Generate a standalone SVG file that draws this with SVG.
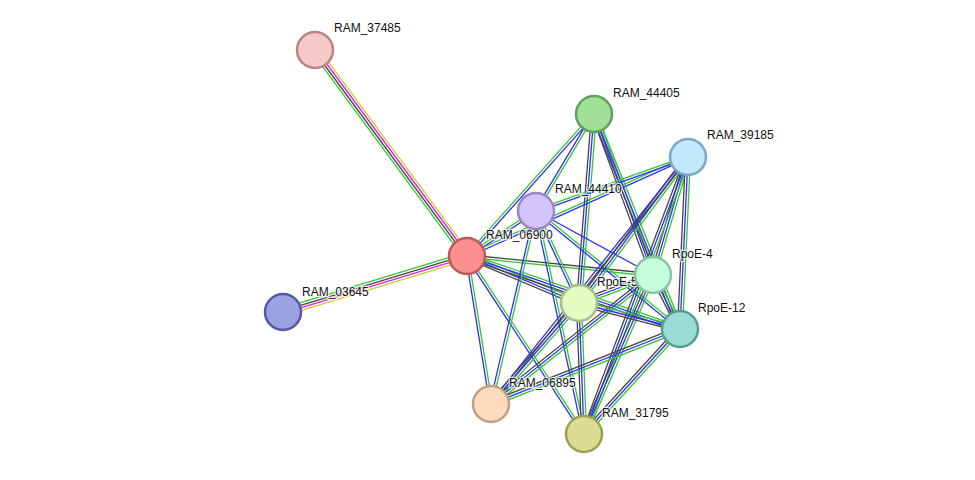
<svg xmlns="http://www.w3.org/2000/svg" xmlns:xlink="http://www.w3.org/1999/xlink" width="975" height="480" viewBox="0 0 975 480">
<style>
.g{stroke:#33c633;stroke-width:1.3;fill:none}
.b{stroke:#2f2ff5;stroke-width:1.3;fill:none}
.k{stroke:#454545;stroke-width:1.3;fill:none}
.m{stroke:#e01ee0;stroke-width:1.3;fill:none}
.y{stroke:#c6cf2c;stroke-width:1.3;fill:none}
.node circle{stroke-width:2.5}
text{font-family:"Liberation Sans",Arial,sans-serif;font-size:12px;fill:#111;stroke:#fff;stroke-width:2.5;stroke-opacity:0.75;paint-order:stroke;stroke-linejoin:round}
</style>
<defs>
<g id="ymkg">
<line class="y" x1="0" y1="-3.75" x2="1" y2="-3.75"/>
<line class="m" x1="0" y1="-1.25" x2="1" y2="-1.25"/>
<line class="k" x1="0" y1="1.25" x2="1" y2="1.25"/>
<line class="g" x1="0" y1="3.75" x2="1" y2="3.75"/>
</g>
<g id="gb">
<line class="g" x1="0" y1="-1.25" x2="1" y2="-1.25"/>
<line class="b" x1="0" y1="1.25" x2="1" y2="1.25"/>
</g>
<g id="kg">
<line class="k" x1="0" y1="-1.25" x2="1" y2="-1.25"/>
<line class="g" x1="0" y1="1.25" x2="1" y2="1.25"/>
</g>
<g id="kb">
<line class="k" x1="0" y1="-1.25" x2="1" y2="-1.25"/>
<line class="b" x1="0" y1="1.25" x2="1" y2="1.25"/>
</g>
<g id="bonly">
<line class="b" x1="0" y1="0" x2="1" y2="0"/>
</g>
<g id="gbk">
<line class="g" x1="0" y1="-2.5" x2="1" y2="-2.5"/>
<line class="b" x1="0" y1="0" x2="1" y2="0"/>
<line class="k" x1="0" y1="2.5" x2="1" y2="2.5"/>
</g>
</defs>
<rect width="975" height="480" fill="#fff"/>
<g id="connectors">
<use href="#ymkg" transform="matrix(152 206 -0.805 0.594 315 50)"/>
<use href="#ymkg" transform="matrix(-184 56 -0.291 -0.957 467 256)"/>
<use href="#gb" transform="matrix(127 -142 0.745 0.667 467 256)"/>
<use href="#gb" transform="matrix(69 -45 0.546 0.838 467 256)"/>
<use href="#gb" transform="matrix(221 -99 0.409 0.912 467 256)"/>
<use href="#kg" transform="matrix(186 19 -0.102 0.995 467 256)"/>
<use href="#gbk" transform="matrix(112 47 -0.387 0.922 467 256)"/>
<use href="#gbk" transform="matrix(213 73 -0.324 0.946 467 256)"/>
<use href="#gb" transform="matrix(24 148 -0.987 0.160 467 256)"/>
<use href="#gb" transform="matrix(117 178 -0.836 0.549 467 256)"/>
<use href="#gb" transform="matrix(-58 97 -0.858 -0.513 594 114)"/>
<use href="#gbk" transform="matrix(-15 189 -0.997 -0.079 594 114)"/>
<use href="#gbk" transform="matrix(59 161 -0.939 0.344 594 114)"/>
<use href="#gbk" transform="matrix(86 215 -0.928 0.371 594 114)"/>
<use href="#gb" transform="matrix(152 -54 0.335 0.942 536 211)"/>
<use href="#bonly" transform="matrix(117 64 -0.480 0.877 536 211)"/>
<use href="#gb" transform="matrix(43 92 -0.906 0.423 536 211)"/>
<use href="#gb" transform="matrix(144 118 -0.634 0.773 536 211)"/>
<use href="#gb" transform="matrix(-45 193 -0.974 -0.227 536 211)"/>
<use href="#gb" transform="matrix(48 223 -0.978 0.210 536 211)"/>
<use href="#gbk" transform="matrix(-35 118 -0.959 -0.284 688 157)"/>
<use href="#gbk" transform="matrix(-109 146 -0.801 -0.598 688 157)"/>
<use href="#gbk" transform="matrix(-8 172 -0.999 -0.046 688 157)"/>
<use href="#kb" transform="matrix(-197 247 -0.782 -0.624 688 157)"/>
<use href="#gbk" transform="matrix(-104 277 -0.936 -0.351 688 157)"/>
<use href="#gbk" transform="matrix(-74 28 -0.354 -0.935 653 275)"/>
<use href="#gbk" transform="matrix(27 54 -0.894 0.447 653 275)"/>
<use href="#gbk" transform="matrix(-162 129 -0.623 -0.782 653 275)"/>
<use href="#gbk" transform="matrix(-69 159 -0.917 -0.398 653 275)"/>
<use href="#gbk" transform="matrix(101 26 -0.249 0.968 579 303)"/>
<use href="#gbk" transform="matrix(-88 101 -0.754 -0.657 579 303)"/>
<use href="#gbk" transform="matrix(5 131 -0.999 0.038 579 303)"/>
<use href="#gbk" transform="matrix(-189 75 -0.369 -0.929 680 329)"/>
<use href="#gbk" transform="matrix(-96 105 -0.738 -0.675 680 329)"/>
</g>
<g id="RAM_37485" class="node"><circle cx="315" cy="50" r="18" fill="#f7c8c8" stroke="#b88484"/><text x="334" y="32">RAM_37485</text></g>
<g id="RAM_03645" class="node"><circle cx="283" cy="312" r="18" fill="#9aa2e2" stroke="#525ba2"/><text x="302" y="296">RAM_03645</text></g>
<g id="RAM_06900" class="node"><circle cx="467" cy="256" r="18" fill="#fc9090" stroke="#c05858"/><text x="486" y="239">RAM_06900</text></g>
<g id="RAM_44410" class="node"><circle cx="536" cy="211" r="18" fill="#d2c4fc" stroke="#9a88c4"/><text x="555" y="193">RAM_44410</text></g>
<g id="RAM_44405" class="node"><circle cx="594" cy="114" r="18" fill="#a0e096" stroke="#60a060"/><text x="613" y="97">RAM_44405</text></g>
<g id="RAM_39185" class="node"><circle cx="688" cy="157" r="18" fill="#c2e8fc" stroke="#7ca8c4"/><text x="707" y="139">RAM_39185</text></g>
<g id="RpoE-5" class="node"><circle cx="579" cy="303" r="18" fill="#e2fcc2" stroke="#a4c088"/><text x="597" y="286">RpoE-5</text></g>
<g id="RpoE-4" class="node"><circle cx="653" cy="275" r="18" fill="#c4fcdc" stroke="#88c4a0"/><text x="672" y="258">RpoE-4</text></g>
<g id="RpoE-12" class="node"><circle cx="680" cy="329" r="18" fill="#98dcd4" stroke="#5c9c94"/><text x="698" y="312">RpoE-12</text></g>
<g id="RAM_06895" class="node"><circle cx="491" cy="404" r="18" fill="#fcdcc0" stroke="#c4a080"/><text x="509" y="387">RAM_06895</text></g>
<g id="RAM_31795" class="node"><circle cx="584" cy="434" r="18" fill="#dcdc94" stroke="#a0a054"/><text x="602" y="417">RAM_31795</text></g>
</svg>
